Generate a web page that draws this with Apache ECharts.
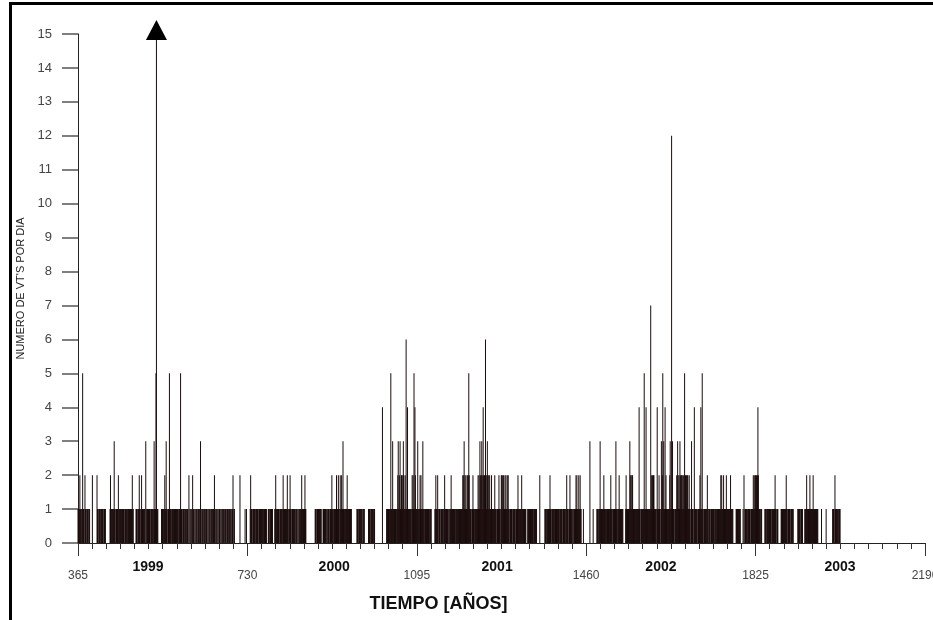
<!DOCTYPE html>
<html>
<head>
<meta charset="utf-8">
<script src="https://cdn.jsdelivr.net/npm/echarts@6/dist/echarts.min.js"></script>
<style>
  html, body { margin: 0; padding: 0; background: #fff; }
  #chart { width: 933px; height: 620px; }
</style>
</head>
<body>
<div id="chart"></div>
<script>
// Year labels and the first day (counted from the start of the record) of each year
const years = ['1999', '2000', '2001', '2002', '2003'];
const yearStartDays = [365, 730, 1095, 1460, 1825];
// First day of each month inside a 365-day year
const monthOffsets = [0, 31, 61, 92, 122, 153, 183, 214, 244, 275, 305, 336];

// Daily VT counts, one sub-array per month
const counts1999 = [
  [1,1,0,1,2,1,1,0,1,1,5,1,1,1,0,2,1,1,0,1,1,1,1,0,1,1,0,0,0,0,0],
  [2,0,0,0,0,0,0,0,0,0,2,1,1,0,1,1,1,1,0,1,1,1,1,1,0,1,1,1,1,0],
  [0,0,0,0,0,0,0,0,1,2,1,1,0,1,1,1,1,3,1,1,0,1,1,1,1,1,2,0,1,1,1],
  [1,1,1,0,1,1,1,1,0,1,1,1,1,1,0,1,1,1,0,1,1,1,1,1,1,2,1,1,0,0],
  [0,0,0,1,1,1,0,1,1,1,2,1,1,0,1,2,1,1,1,1,0,1,1,0,3,0,1,1,1,1,1],
  [1,1,1,0,1,1,1,1,1,0,1,3,1,1,1,5,15,1,1,1,0,0,0,0,0,0,0,1,1,1],
  [1,1,0,1,2,1,1,3,1,1,0,1,1,1,5,1,1,1,0,1,1,1,1,1,0,1,1,1,1,1,1],
  [1,1,1,0,1,1,1,5,1,1,1,0,1,1,1,1,0,1,1,0,1,0,1,1,0,2,0,1,0,1],
  [1,0,1,2,0,1,1,0,1,0,1,1,0,1,0,1,1,0,1,0,3,1,0,1,1,0,1,0,1,1,0],
  [1,0,1,1,0,1,0,1,1,0,1,0,1,1,0,1,0,1,0,2,1,0,1,1,0,1,0,1,0,1],
  [1,1,0,1,0,1,1,0,1,1,0,1,0,1,1,0,1,1,0,1,0,1,1,0,1,1,0,1,1,2,0],
  [1,1,0,0,0,0,0,0,0,0,0,0,0,2,0,0,0,0,0,0,0,0,0,0,1,0,0,1,0]
];
const counts2000 = [
  [0,0,0,0,0,0,1,2,1,1,1,0,1,1,1,1,1,0,1,1,1,1,1,1,0,1,1,1,1,1,1],
  [1,1,1,0,1,1,1,1,1,1,1,0,0,0,1,1,1,0,1,1,1,1,1,1,0,0,0,0,1,1],
  [2,1,1,0,1,1,1,1,0,1,1,1,1,1,0,1,2,1,1,1,0,1,1,1,1,2,1,1,0,1,1],
  [2,1,1,0,1,1,1,1,1,1,1,0,1,0,1,1,0,1,0,1,1,0,1,1,1,2,1,1,1,1],
  [1,1,2,1,1,0,0,0,0,0,0,0,0,0,0,0,0,0,0,0,0,0,0,0,1,1,1,0,1,1,1],
  [1,1,1,1,1,1,1,0,0,0,1,1,1,1,1,1,1,1,0,0,1,1,1,1,0,1,1,1,1,2],
  [1,1,0,1,1,1,1,1,1,2,1,1,1,2,1,1,0,2,1,1,2,1,1,3,1,1,1,0,1,1,1],
  [1,2,1,1,1,0,1,1,1,1,1,0,0,0,0,0,0,0,0,0,0,0,1,1,1,0,1,1,1,1],
  [1,0,1,1,0,1,1,0,1,0,0,0,0,0,0,0,0,1,1,1,1,0,1,1,1,1,1,0,1,1,1],
  [0,0,0,0,0,0,0,0,0,0,0,0,0,0,0,0,4,0,0,0,0,0,0,0,0,1,1,1,0,1],
  [1,1,0,1,5,1,1,1,3,1,1,0,1,1,1,1,1,0,1,2,3,1,1,2,3,1,1,2,2,1,2],
  [3,2,1,1,2,1,6,1,1,4,1,1,0,1,1,1,1,0,1,2,1,2,1,5,1,4,2,1,1]
];
const counts2001 = [
  [1,1,3,1,1,0,1,2,1,2,1,1,1,3,1,1,0,1,1,1,1,1,0,1,1,1,1,1,0,1,1],
  [1,0,0,0,0,0,0,0,1,1,2,1,1,1,2,1,0,1,1,1,0,1,1,1,1,1,0,1,1,2],
  [1,1,0,1,1,1,1,0,1,1,0,1,1,2,1,1,1,0,1,1,1,1,1,0,1,1,1,1,0,1,1],
  [1,1,1,1,1,1,1,2,1,2,3,1,2,1,2,1,1,2,1,2,5,2,1,1,1,1,0,1,1,2],
  [1,1,1,0,1,1,1,1,1,1,2,1,2,1,3,2,1,2,3,2,1,4,2,1,2,2,6,2,1,2,3],
  [2,1,2,1,2,1,1,1,2,1,1,0,1,1,1,2,1,1,1,0,1,1,1,1,2,1,1,0,1,2],
  [2,1,2,1,2,1,1,2,1,2,1,1,2,1,2,1,1,0,1,1,1,1,1,0,1,1,1,1,1,1,0],
  [1,1,1,1,2,1,0,1,1,1,1,1,2,1,1,0,1,1,1,1,1,1,0,0,0,1,1,1,1,1],
  [1,1,0,1,1,1,1,1,0,1,1,1,1,1,1,0,0,0,0,0,0,2,0,0,0,0,0,0,0,0,0],
  [0,1,1,1,1,0,1,1,1,1,1,1,2,1,1,0,1,1,1,1,1,0,1,1,1,1,1,0,1,1],
  [1,1,1,0,1,1,1,1,1,0,1,1,1,1,1,1,0,1,2,1,1,1,0,1,1,2,1,1,1,1,0],
  [1,1,0,1,1,1,1,2,1,2,1,1,1,2,1,1,2,1,1,0,0,0,0,1,0,0,0,0,0]
];
const counts2002 = [
  [0,0,0,0,0,0,0,0,3,0,0,0,0,0,0,1,0,0,0,0,0,0,0,1,1,1,1,0,1,1,3],
  [1,1,1,0,1,1,1,2,1,1,1,1,0,1,1,1,1,1,0,1,1,1,2,1,1,1,0,1,1,1],
  [1,1,1,3,1,1,1,0,1,1,2,1,1,1,1,1,0,1,1,0,0,0,0,0,1,2,1,1,1,1,1],
  [1,1,3,2,1,2,1,2,2,1,1,1,1,0,1,1,1,1,1,1,1,1,4,1,1,0,1,1,1,1],
  [1,1,1,5,1,1,1,4,1,1,1,0,1,1,1,1,1,7,1,2,1,2,1,2,2,1,1,1,1,0,1],
  [4,1,1,1,2,1,1,0,1,3,1,2,5,1,3,1,1,4,1,2,1,1,1,0,1,1,1,2,3,1],
  [1,12,1,3,1,1,1,0,1,1,1,1,2,1,3,2,1,2,1,3,2,1,2,2,1,2,1,2,1,5,2],
  [2,1,2,1,2,2,1,1,2,1,1,0,1,3,1,1,1,0,1,4,1,1,1,1,1,1,0,1,1,1],
  [1,2,1,4,1,1,5,1,1,0,1,1,0,1,1,1,0,2,1,1,0,1,1,1,0,1,1,0,1,1,1],
  [1,1,0,1,1,0,1,1,1,0,1,1,1,1,1,2,1,2,1,1,1,2,1,1,1,1,1,2,1,1],
  [1,1,1,1,1,1,2,1,1,0,1,1,0,0,0,0,0,0,1,1,1,1,0,1,1,1,1,1,0,0,0],
  [0,0,1,0,2,0,1,1,1,1,1,0,1,1,1,1,1,1,0,1,1,1,1,1,2,1,2,1,2]
];
const counts2003 = [
  [2,1,2,1,2,4,2,1,1,1,0,1,1,1,0,0,0,0,0,0,1,1,1,0,1,1,1,1,1,0,1],
  [1,1,1,0,1,1,1,1,1,1,1,2,1,1,0,1,1,1,0,0,0,0,0,0,1,1,1,1,0,1],
  [1,1,1,1,1,2,1,1,0,1,1,1,1,1,0,1,1,1,1,1,1,0,0,0,0,0,0,0,0,0,1],
  [1,1,1,1,1,0,1,1,1,1,0,0,0,0,1,1,1,1,2,1,1,0,1,1,1,2,1,1,1,1],
  [1,1,2,1,1,1,0,1,1,1,1,1,1,0,0,0,0,0,0,0,1,0,0,0,0,0,0,0,0,0,1],
  [0,0,0,0,0,0,0,0,0,0,0,0,0,1,1,1,1,0,2,1,1,1,1,1,1,0,1,1,1,1]
];

const countsByYear = [counts1999, counts2000, counts2001, counts2002, counts2003];

// Flatten into [day, count] pairs for the days that had at least one VT
const dailyData = [];
countsByYear.forEach((months, y) => {
  months.forEach((days, m) => {
    days.forEach((v, i) => {
      if (v > 0) dailyData.push([yearStartDays[y] + monthOffsets[m] + i, v]);
    });
  });
});

// The tallest day runs off the top of the scale and gets an arrow head
let peak = dailyData[0];
dailyData.forEach(d => { if (d[1] > peak[1]) peak = d; });

// Where each bold year name sits along the day axis
const yearLabelDays = [516, 917, 1268, 1621, 2007];

const chart = echarts.init(document.getElementById('chart'), null, { renderer: 'canvas' });

const labelFont = 'Liberation Sans, Arial, sans-serif';

chart.setOption({
  animation: false,
  backgroundColor: '#fff',
  grid: {
    left: 78, right: 8, top: 34, bottom: 77,
    containLabel: false,
    outerBoundsMode: 'none'
  },
  xAxis: [
    {
      type: 'value',
      min: 365,
      max: 2190,
      interval: 365,
      axisLine: { show: true, lineStyle: { color: '#222', width: 1 } },
      axisTick: { show: true, length: 13, lineStyle: { color: '#333', width: 1 } },
      minorTick: { show: true, splitNumber: 12, length: 6, lineStyle: { color: '#333', width: 1 } },
      splitLine: { show: false },
      minorSplitLine: { show: false },
      axisLabel: {
        fontFamily: labelFont, fontSize: 12, color: '#444', margin: 27,
        formatter: (v) => String(v)
      },
      name: 'TIEMPO [AÑOS]',
      nameLocation: 'middle',
      nameGap: 52,
      nameTextStyle: {
        fontFamily: labelFont, fontSize: 18, fontWeight: 'bold', color: '#111',
        padding: [0, 126, 0, 0]
      }
    },
    {
      type: 'value',
      min: 365,
      max: 2190,
      position: 'bottom',
      offset: 0,
      axisLine: { show: false },
      axisTick: { show: false },
      splitLine: { show: false },
      axisLabel: {
        customValues: yearLabelDays,
        formatter: (v) => years[yearLabelDays.indexOf(v)] || '',
        fontFamily: labelFont, fontSize: 14, fontWeight: 'bold', color: '#111', margin: 17
      }
    }
  ],
  yAxis: {
    type: 'value',
    min: 0,
    max: 15,
    interval: 1,
    axisLine: { show: true, lineStyle: { color: '#222', width: 1 } },
    axisTick: { show: true, length: 16, lineStyle: { color: '#555', width: 1.5 } },
    splitLine: { show: false },
    axisLabel: { fontFamily: labelFont, fontSize: 13, color: '#444', margin: 26 },
    name: "NUMERO DE VT'S POR DIA",
    nameLocation: 'middle',
    nameGap: 50,
    nameTextStyle: { fontFamily: labelFont, fontSize: 11, color: '#222' }
  },
  series: [
    {
      type: 'bar',
      xAxisIndex: 0,
      data: dailyData,
      barWidth: 1,
      itemStyle: { color: '#1b0c0c' },
      markPoint: {
        symbol: 'triangle',
        symbolSize: [21, 20],
        symbolOffset: [0, -4],
        itemStyle: { color: '#000' },
        label: { show: false },
        data: [{ coord: [peak[0], peak[1]] }]
      }
    }
  ],
  graphic: [
    { type: 'rect', shape: { x: 9, y: 2, width: 924, height: 3 }, style: { fill: '#000' } },
    { type: 'rect', shape: { x: 9, y: 2, width: 3, height: 618 }, style: { fill: '#000' } }
  ]
});
</script>
</body>
</html>
